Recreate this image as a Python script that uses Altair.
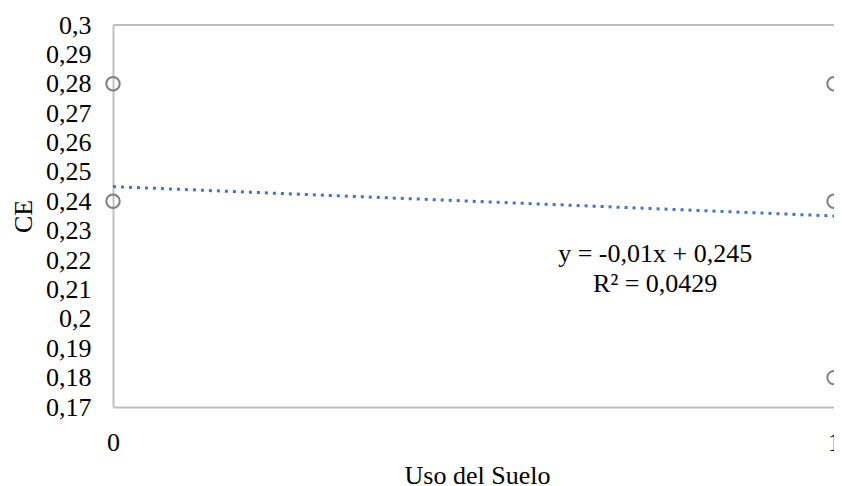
import altair as alt
import pandas as pd

# Data
uso_x = [0, 0, 1, 1, 1]
ce_y = [0.28, 0.24, 0.28, 0.24, 0.18]

trend_x = [0, 1]
trend_slope = [-0.01]
trend_intercept = [0.245]

eq_lines = ["y = -0,01x + 0,245", "R² = 0,0429"]
y_ticks = [0.17, 0.18, 0.19, 0.2, 0.21, 0.22, 0.23, 0.24, 0.25, 0.26, 0.27, 0.28, 0.29, 0.3]
x_ticks = [0, 1]

pts = pd.DataFrame({"x": uso_x, "y": ce_y})
trend = pd.DataFrame({"x": trend_x})
ann = pd.DataFrame({"t": eq_lines, "x": [0.752, 0.752], "y": [0.2221, 0.2119]})

FONT = "Liberation Serif"
GRID = "#bfbfbf"

xscale = alt.Scale(domain=[0, 1], nice=False, zero=False)
yscale = alt.Scale(domain=[0.17, 0.3], nice=False, zero=False)

xaxis = alt.Axis(
    title="Uso del Suelo", values=x_ticks, tickCount=5, format="d", ticks=False, grid=False,
    labelFlush=False, labelOverlap=False,
    domainColor=GRID, domainWidth=2, labelFont=FONT, labelFontSize=26,
    labelColor="#000000", labelPadding=22, titleFont=FONT, titleFontSize=26,
    titleFontWeight="normal", titleColor="#000000",
    titleBaseline="alphabetic", titleY=76, titleX=364,
)
yaxis = alt.Axis(
    title="CE", values=y_ticks, tickCount=20,
    labelExpr="replace(format(datum.value, '.2~f'), '.', ',')",
    ticks=False, grid=False, domainColor=GRID, domainWidth=2,
    labelFont=FONT, labelFontSize=26, labelColor="#000000", labelPadding=22,
    labelOverlap=False, labelFlush=False,
    titleFont=FONT, titleFontSize=26, titleFontWeight="normal", titleColor="#000000",
    titleAngle=-90, titleX=-82, titleY=191, titleAlign="center", titleBaseline="alphabetic",
)

X = alt.X("x:Q", scale=xscale, axis=xaxis)
Y = alt.Y("y:Q", scale=yscale, axis=yaxis)

line = alt.Chart(trend).transform_calculate(
    y=f"{trend_intercept[0]} + ({trend_slope[0]}) * datum.x"
).mark_line(color="#4472C4", strokeWidth=3, strokeDash=[3, 5]).encode(x=X, y=Y)

border = alt.Chart(pts).mark_rule(color=GRID, strokeWidth=2).encode(
    y=alt.datum(0.3)
)

points = alt.Chart(pts).mark_point(
    shape="circle", filled=False, color="#7f7f7f", size=180, strokeWidth=2, opacity=1
).encode(x=X, y=Y)

text = alt.Chart(ann).mark_text(
    font=FONT, fontSize=26, color="#000000", align="center", baseline="middle"
).encode(x=X, y=Y, text="t:N")

chart = alt.layer(line, border, points, text).properties(
    width=721, height=382,
    autosize=alt.AutoSizeParams(type="none"),
    padding={"left": 105, "top": 17, "right": 0, "bottom": 78},
).configure_view(stroke="transparent", strokeWidth=0).configure(background="white")

chart.save("out.html", embed_options={"renderer": "svg", "actions": False})
